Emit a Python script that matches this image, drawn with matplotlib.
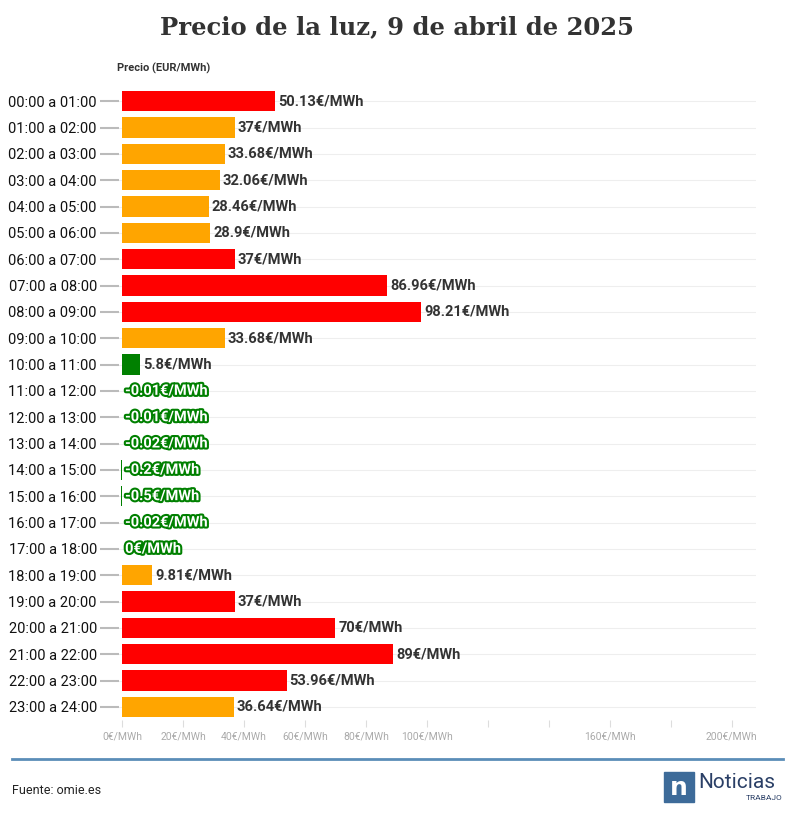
import matplotlib.pyplot as plt
import matplotlib.patheffects as pe
from matplotlib.patches import Rectangle
from matplotlib.lines import Line2D

hours = [f"{h:02d}:00 a {h+1:02d}:00" for h in range(24)]
prices = [50.13, 37, 33.68, 32.06, 28.46, 28.9, 37, 86.96, 98.21, 33.68, 5.8,
          -0.01, -0.01, -0.02, -0.2, -0.5, -0.02, 0, 9.81, 37, 70, 89, 53.96, 36.64]
labels = ["50.13", "37", "33.68", "32.06", "28.46", "28.9", "37", "86.96", "98.21", "33.68", "5.8",
          "-0.01", "-0.01", "-0.02", "-0.2", "-0.5", "-0.02", "0", "9.81", "37", "70", "89", "53.96", "36.64"]
colors = ["red", "orange", "orange", "orange", "orange", "orange", "red", "red", "red", "orange", "green",
          "green", "green", "green", "green", "green", "green", "green", "orange", "red", "red", "red", "red", "orange"]
xticks = [0, 20, 40, 60, 80, 100, 120, 140, 160, 180, 200]
xtick_labels = ["0€/MWh", "20€/MWh", "40€/MWh", "60€/MWh", "80€/MWh", "100€/MWh", "", "", "160€/MWh", "", "200€/MWh"]

fig = plt.figure(figsize=(7.94, 8.19), dpi=100)
W, H = 794, 819
ax = fig.add_axes([119 / W, 1 - 720 / H, (756 - 119) / W, (720 - 88) / H])

y = list(range(24))
ax.barh(y, prices, height=0.76, color=colors, zorder=3)
ax.set_ylim(23.5, -0.5)
ax.set_xlim(-1, 208)
ax.set_yticks(y)
ax.set_yticklabels(hours, fontsize=10.5, color="#111111", family="Roboto")
ax.set_xticks(xticks)
ax.set_xticklabels(xtick_labels, fontsize=7.5, color="#aaaaaa", family="Roboto")
ax.tick_params(axis="y", length=14, color="#bbbbbb", width=1.5, pad=2)
ax.tick_params(axis="x", length=5, color="#dddddd")
ax.grid(axis="y", color="#eeeeee", zorder=0)
for s in ax.spines.values():
    s.set_visible(False)

for i, (p, lab, c) in enumerate(zip(prices, labels, colors)):
    x0 = max(p, 0) + 1
    if c == "green" and p <= 0:
        ax.text(x0, i, lab + "€/MWh", va="center", ha="left", fontsize=10.5, fontweight="bold",
                family="Roboto", color="white",
                path_effects=[pe.withStroke(linewidth=3, foreground="green")], zorder=4)
    else:
        ax.text(x0, i, lab + "€/MWh", va="center", ha="left", fontsize=10.5, fontweight="bold",
                family="Roboto", color="#333333", zorder=4)

fig.text(0.5, 1 - 27 / H, "Precio de la luz, 9 de abril de 2025", ha="center", va="center",
         fontsize=17.5, fontweight="bold", family="DejaVu Serif", color="#333333")
fig.text(117 / W, 1 - 68 / H, "Precio (EUR/MWh)", ha="left", va="center", fontsize=8,
         fontweight="bold", family="Roboto", color="#333333")

fig.add_artist(Line2D([12 / W, 783 / W], [1 - 759 / H] * 2, color="#5b8db8", lw=2))
fig.text(12 / W, 1 - 790 / H, "Fuente: omie.es", ha="left", va="center", fontsize=9,
         family="Roboto", color="#222222")
fig.add_artist(Rectangle((664 / W, 1 - 802 / H), 30 / W, 30 / H, color="#3d6b99"))
fig.text(679 / W, 1 - 788 / H, "n", ha="center", va="center", fontsize=18, fontweight="bold", color="white")
fig.text(698 / W, 1 - 782 / H, "Noticias", ha="left", va="center", fontsize=15, family="Roboto", color="#2a3f66")
fig.text(783 / W, 1 - 798 / H, "TRABAJO", ha="right", va="center", fontsize=6, family="Roboto", color="#2a3f66")

plt.savefig("out.png")
